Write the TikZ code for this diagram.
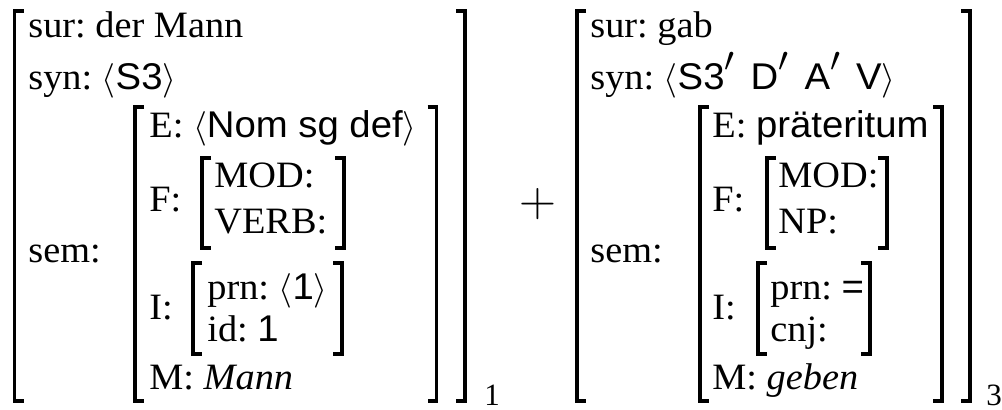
\documentclass[tikz,border=0pt]{standalone}
\usepackage{fontspec}
\setmainfont{Liberation Serif}
\newfontfamily\avmsans{Liberation Sans}
\newcommand{\avmval}[1]{{\avmsans #1}}
\newcommand{\avmprime}{{\fontsize{24}{26}\selectfont$'$}}
\usetikzlibrary{positioning}
\frenchspacing
\tikzset{
  feat/.style={
    anchor=base west,
    inner sep=0pt,
    xscale=1.03,
    font=\fontsize{18.6}{22}\selectfont
  },
  index/.style={
    anchor=base west,
    inner sep=0pt,
    font=\fontsize{15.5}{18}\selectfont
  },
  brk/.style={
    line width=1.6pt,
    line cap=butt,
    line join=miter,
    draw=black
  }
}
\begin{document}
\begin{tikzpicture}[x=0.5pt,y=-0.5pt]
    \useasboundingbox (0,0) rectangle (1002,410);
    % first proplet
    \node[feat] (sur1) at (28,38) {sur: der Mann};
    \node[feat] (syn1) at (28,90) {syn: $\langle$\avmval{S3}$\rangle$};
    \node[feat] (sem1) at (28,263) {sem:};
    \node[feat] (e1) at (149,138) {E: $\langle$\avmval{Nom sg def}$\rangle$};
    \node[feat] (f1) at (149,212) {F:};
    \node[feat] (mod1) at (214,188) {MOD:};
    \node[feat] (verb1) at (214,234) {VERB:};
    \node[feat] (i1) at (149,320) {I:};
    \node[feat] (prn1) at (207,300) {prn: $\langle$\avmval{1}$\rangle$};
    \node[feat] (id1) at (207,342) {id: \avmval{1}};
    \node[feat] (m1) at (149,390) {M: \textit{Mann}};
    \node[index] (idx1) at (484,406) {1};
    \node[feat, anchor=center, font=\fontsize{23}{26}\selectfont] (plus) at (538,204) {$+$};
    % second proplet
    \node[feat] (sur2) at (590,38) {sur: gab};
    \node[feat] (syn2) at (590,90) {syn: $\langle$\avmval{S3}\avmprime\hspace{0.4em}\avmval{D}\avmprime\hspace{0.4em}\avmval{A}\avmprime\hspace{0.4em}\avmval{V}$\rangle$};
    \node[feat] (sem2) at (590,263) {sem:};
    \node[feat] (e2) at (712,138) {E: \avmval{präteritum}};
    \node[feat] (f2) at (712,212) {F:};
    \node[feat] (mod2) at (778,188) {MOD:};
    \node[feat] (np2) at (778,234) {NP:};
    \node[feat] (i2) at (712,320) {I:};
    \node[feat] (prn2) at (770,300) {prn: \avmval{=}};
    \node[feat] (cnj2) at (770,342) {cnj:};
    \node[feat] (m2) at (712,390) {M: \textit{geben}};
    \node[index] (idx2) at (986,406) {3};
    % brackets: x/top/bottom/side
    \foreach \x/\t/\b/\dir in {14.5/11/401/1, 465/11/401/-1,
        135/107/401/1, 436.5/107/401/-1, 202/158/248/1, 344/158/248/-1,
        193/263/354/1, 342/263/354/-1,
        577/11/401/1, 970/11/401/-1, 700/107/401/1, 942/107/401/-1,
        767/158/248/1, 887/158/248/-1, 758/263/354/1, 870/263/354/-1}
      \draw[brk] (\x+\dir*9,\t) -- (\x,\t) -- (\x,\b) -- (\x+\dir*9,\b);
\end{tikzpicture}
\end{document}
